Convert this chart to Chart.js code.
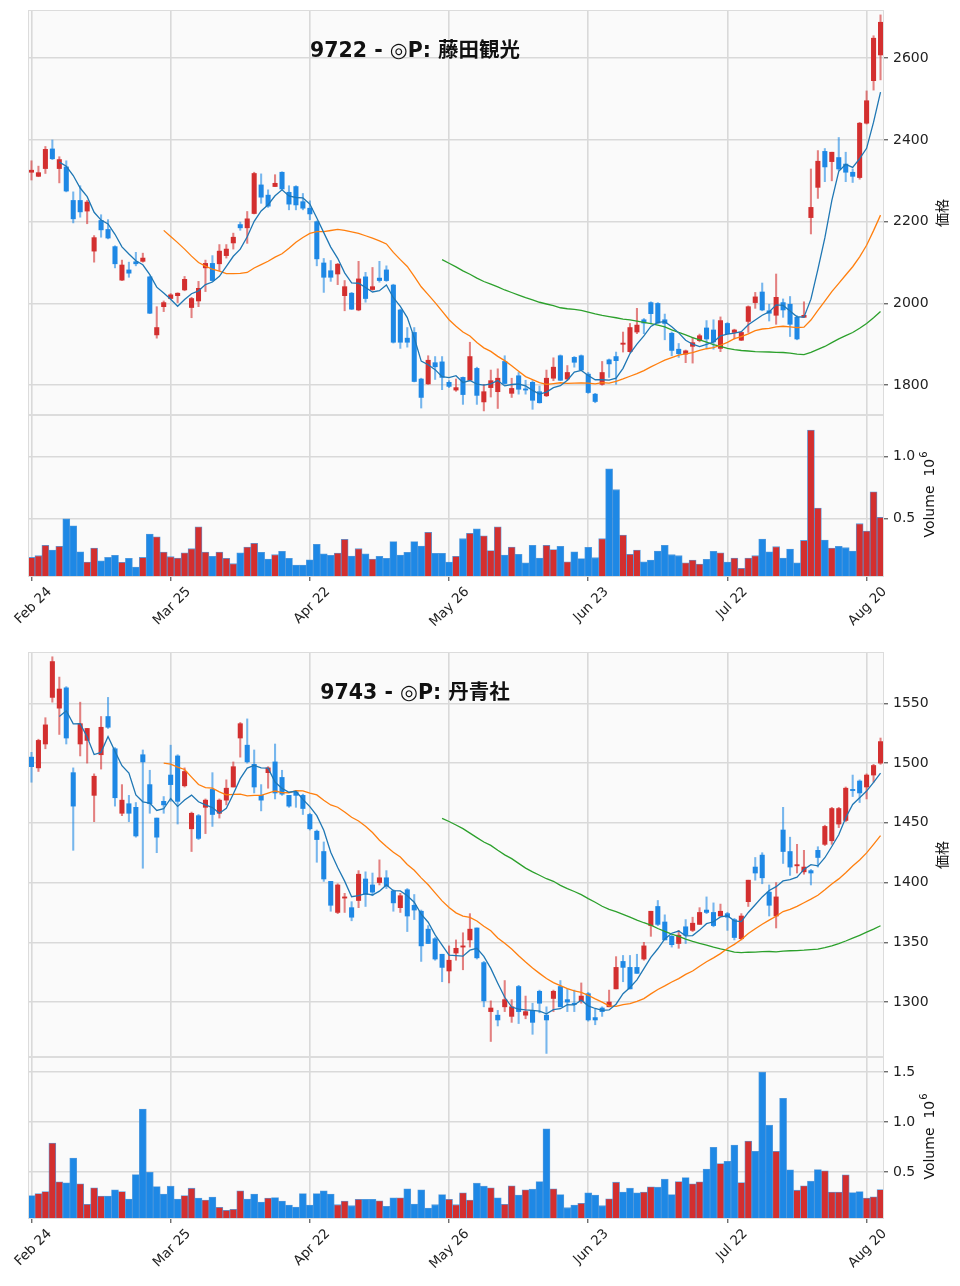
<!DOCTYPE html>
<html>
<head>
<meta charset="utf-8">
<script src="https://cdn.jsdelivr.net/npm/chart.js@4.4.1/dist/chart.umd.min.js"></script>
<style>
body { margin: 0; background: #fff; width: 960px; height: 1286px; position: relative; overflow: hidden; }
canvas { position: absolute; left: 0; }
</style>
</head>
<body>
<canvas id="p1" width="960" height="415" style="top:0px"></canvas>
<canvas id="v1" width="960" height="226" style="top:415px"></canvas>
<canvas id="p2" width="960" height="415" style="top:642px"></canvas>
<canvas id="v2" width="960" height="226" style="top:1057px"></canvas>
<script>
// x axis tick labels, one every 20 trading days
var tickLabels = ['Feb 24', 'Mar 25', 'Apr 22', 'May 26', 'Jun 23', 'Jul 22', 'Aug 20'];
var tickEvery = 20;
var maPeriods = [5, 20, 60];

// y axis ticks
var priceTicksA = [1800, 2000, 2200, 2400, 2600];
var priceTicksB = [1300, 1350, 1400, 1450, 1500, 1550];
var volTicksA = [0.5, 1.0];
var volTicksB = [0.5, 1.0, 1.5];

// 9722 藤田観光
var openA = [2321,2311,2330,2378,2330,2334,2252,2252,2226,2128,2203,2181,2139,2057,2082,2102,2103,2065,1923,1992,
  2012,2019,2033,1990,2006,2087,2098,2097,2117,2148,2193,2185,2220,2290,2265,2286,2321,2272,2286,2249,
  2233,2200,2099,2080,2072,2019,2025,1984,2065,2034,2062,2082,2045,1984,1915,1929,1815,1803,1855,1857,
  1807,1788,1819,1812,1841,1759,1794,1784,1858,1780,1823,1790,1807,1784,1774,1817,1872,1815,1868,1872,
  1827,1778,1802,1862,1870,1900,1882,1930,1960,2002,2000,1960,1927,1888,1876,1895,1909,1940,1935,1890,
  1951,1929,1910,1956,2002,2028,1982,1971,2002,1998,1966,1966,2210,2284,2372,2347,2357,2341,2321,2308,
  2441,2545,2608];
var highA = [2349,2336,2384,2400,2359,2349,2273,2288,2252,2166,2217,2205,2141,2106,2101,2125,2123,2067,1992,2006,
  2024,2026,2066,2015,2054,2106,2117,2144,2144,2172,2199,2225,2321,2317,2278,2315,2322,2288,2288,2269,
  2251,2202,2110,2105,2098,2056,2027,2103,2076,2088,2103,2092,2047,1986,1941,1941,1817,1872,1870,1870,
  1811,1815,1820,1905,1844,1802,1837,1840,1872,1817,1831,1812,1811,1798,1837,1867,1874,1848,1870,1874,
  1831,1780,1858,1864,1881,1930,1951,1988,1963,2004,2002,1974,1930,1902,1886,1917,1925,1958,1960,1967,
  1953,1937,1931,1994,2027,2050,1998,2072,2011,2017,1970,2004,2329,2374,2379,2370,2406,2370,2329,2443,
  2520,2655,2706];
var lowA = [2302,2310,2318,2352,2295,2273,2197,2211,2195,2101,2162,2158,2087,2056,2064,2092,2101,1975,1915,1980,
  2011,2002,2031,1965,1992,2029,2054,2080,2111,2133,2179,2147,2219,2245,2235,2286,2278,2229,2229,2229,
  2205,2092,2027,2054,2046,1982,1985,1982,2003,2032,2052,2054,1903,1890,1893,1808,1744,1802,1814,1789,
  1794,1785,1753,1811,1753,1737,1771,1743,1802,1770,1778,1778,1741,1756,1772,1811,1811,1812,1844,1836,
  1780,1757,1800,1819,1802,1881,1880,1926,1926,1951,1951,1911,1872,1868,1855,1854,1906,1890,1888,1882,
  1925,1913,1909,1929,1988,1982,1957,1949,1966,1919,1911,1966,2170,2257,2298,2300,2325,2298,2296,2304,
  2439,2522,2547];
var closeA = [2326,2320,2377,2354,2352,2275,2207,2224,2248,2161,2180,2160,2097,2094,2074,2097,2111,1976,1941,2002,
  2021,2025,2059,2012,2037,2098,2056,2128,2133,2162,2185,2207,2318,2260,2238,2294,2280,2243,2241,2233,
  2219,2109,2064,2064,2096,2041,1986,2060,2012,2041,2056,2056,1905,1905,1905,1809,1770,1861,1845,1819,
  1797,1794,1777,1870,1775,1784,1811,1817,1804,1792,1790,1788,1763,1757,1817,1844,1812,1831,1856,1837,
  1782,1760,1831,1852,1860,1903,1941,1947,1952,1975,1952,1951,1885,1877,1884,1904,1921,1913,1906,1958,
  1926,1935,1929,1992,2016,1984,1976,2015,1984,1949,1913,1971,2235,2348,2334,2370,2329,2321,2311,2441,
  2496,2649,2688];
// volume, millions of shares
var volA = [0.183,0.197,0.281,0.243,0.273,0.497,0.440,0.229,0.146,0.259,
  0.156,0.183,0.200,0.143,0.175,0.105,0.183,0.373,0.351,0.227,
  0.189,0.178,0.221,0.254,0.432,0.227,0.192,0.227,0.175,0.132,
  0.221,0.267,0.297,0.224,0.170,0.205,0.232,0.175,0.121,0.121,
  0.164,0.289,0.213,0.200,0.219,0.330,0.194,0.254,0.213,0.170,
  0.192,0.175,0.311,0.202,0.224,0.311,0.275,0.386,0.216,0.216,
  0.146,0.192,0.335,0.378,0.416,0.359,0.238,0.432,0.202,0.267,
  0.208,0.140,0.281,0.178,0.281,0.246,0.273,0.148,0.229,0.173,
  0.265,0.181,0.335,0.903,0.733,0.365,0.208,0.243,0.148,0.162,
  0.235,0.281,0.205,0.197,0.140,0.162,0.129,0.167,0.232,0.221,
  0.146,0.178,0.094,0.178,0.197,0.332,0.229,0.270,0.178,0.251,
  0.140,0.321,1.217,0.584,0.324,0.259,0.273,0.262,0.235,0.457,
  0.397,0.716,0.508];

// 9743 丹青社
var openB = [1505,1496,1516,1555,1546,1563,1492,1516,1519,1473,1507,1539,1512,1458,1466,1463,1507,1482,1454,1468,
  1490,1506,1481,1445,1456,1463,1478,1458,1469,1480,1521,1515,1499,1473,1492,1501,1488,1473,1476,1473,
  1457,1443,1426,1401,1375,1387,1379,1385,1403,1398,1400,1404,1393,1379,1394,1381,1376,1361,1353,1340,
  1326,1341,1346,1352,1362,1333,1292,1289,1296,1288,1313,1289,1293,1309,1289,1303,1313,1302,1299,1301,
  1307,1287,1295,1296,1311,1334,1329,1329,1336,1364,1380,1367,1355,1349,1363,1360,1365,1377,1375,1372,
  1374,1369,1353,1384,1413,1423,1392,1372,1444,1426,1414,1409,1410,1427,1432,1435,1449,1452,1478,1485,
  1480,1490,1500];
var highB = [1509,1520,1538,1589,1572,1564,1496,1551,1529,1491,1539,1555,1513,1482,1473,1467,1511,1494,1454,1472,
  1515,1507,1496,1459,1457,1470,1492,1470,1486,1501,1534,1537,1511,1482,1497,1516,1494,1473,1477,1474,
  1458,1444,1434,1401,1399,1391,1384,1410,1409,1408,1419,1410,1394,1391,1395,1390,1377,1364,1354,1340,
  1347,1352,1358,1374,1362,1334,1301,1293,1318,1302,1314,1305,1299,1310,1296,1310,1318,1311,1310,1316,
  1308,1294,1296,1310,1338,1339,1339,1340,1350,1376,1385,1373,1356,1360,1369,1371,1379,1388,1383,1382,
  1375,1370,1374,1402,1421,1425,1398,1400,1463,1438,1432,1427,1411,1430,1448,1463,1463,1480,1490,1486,
  1491,1499,1521];
var lowB = [1484,1493,1512,1551,1524,1516,1427,1506,1500,1451,1495,1529,1464,1456,1451,1438,1412,1458,1425,1458,
  1468,1449,1480,1426,1436,1441,1447,1454,1465,1480,1505,1500,1475,1460,1479,1470,1473,1463,1463,1457,
  1444,1417,1401,1376,1374,1375,1368,1379,1380,1389,1398,1395,1376,1375,1359,1369,1334,1349,1335,1317,
  1316,1335,1327,1346,1336,1296,1267,1280,1292,1283,1282,1286,1273,1291,1257,1292,1296,1292,1292,1299,
  1284,1281,1288,1296,1311,1317,1311,1324,1335,1355,1364,1352,1346,1345,1349,1359,1365,1374,1363,1372,
  1360,1352,1352,1380,1402,1399,1372,1362,1416,1406,1408,1407,1398,1413,1431,1432,1446,1451,1472,1467,
  1470,1484,1499];
var closeB = [1497,1519,1532,1585,1562,1521,1464,1533,1529,1489,1530,1530,1471,1469,1458,1439,1501,1466,1438,1465,
  1482,1468,1493,1458,1437,1469,1457,1469,1479,1497,1533,1501,1480,1469,1496,1475,1474,1464,1473,1462,
  1445,1436,1403,1381,1398,1388,1371,1407,1390,1392,1404,1397,1383,1389,1372,1377,1347,1349,1336,1329,
  1335,1345,1347,1361,1337,1301,1295,1285,1302,1296,1292,1292,1283,1299,1285,1309,1296,1300,1298,1305,
  1285,1285,1292,1300,1329,1329,1311,1324,1347,1376,1365,1352,1348,1356,1356,1366,1375,1375,1364,1376,
  1371,1354,1372,1402,1408,1404,1381,1388,1426,1413,1415,1413,1408,1421,1447,1462,1462,1479,1477,1475,
  1490,1498,1518];
var volB = [0.267,0.287,0.307,0.791,0.403,0.393,0.642,0.383,0.178,0.344,
  0.261,0.261,0.324,0.307,0.231,0.476,1.132,0.499,0.357,0.281,
  0.360,0.231,0.267,0.340,0.241,0.221,0.251,0.148,0.118,0.128,
  0.314,0.231,0.281,0.201,0.241,0.247,0.211,0.171,0.151,0.287,
  0.171,0.287,0.314,0.281,0.175,0.211,0.165,0.228,0.228,0.228,
  0.214,0.158,0.244,0.244,0.334,0.181,0.324,0.141,0.175,0.277,
  0.228,0.175,0.294,0.221,0.390,0.360,0.344,0.244,0.178,0.363,
  0.271,0.324,0.330,0.407,0.933,0.334,0.277,0.145,0.171,0.188,
  0.294,0.271,0.165,0.234,0.400,0.301,0.340,0.294,0.301,0.354,
  0.350,0.430,0.277,0.407,0.446,0.383,0.403,0.532,0.748,0.586,
  0.609,0.771,0.397,0.811,0.708,1.500,0.970,0.708,1.238,0.523,
  0.320,0.363,0.410,0.526,0.513,0.301,0.301,0.473,0.297,0.307,
  0.241,0.254,0.327];

var UP = '#d32f2f', DOWN = '#1e88e5';
var UP_WICK = 'rgba(211,47,47,0.6)', DOWN_WICK = 'rgba(30,136,229,0.6)';
var MA_COLORS = ['#1f77b4', '#ff7f0e', '#2ca02c'];
var GRID = '#d9d9d9';
var NONE = 'rgba(0,0,0,0)';
var FONT = '"DejaVu Sans", "Noto Sans CJK JP", sans-serif';

Chart.defaults.font.family = FONT;
Chart.defaults.color = '#222';

function sma(src, n) {
  return src.map(function (_, i) {
    if (i < n - 1) return null;
    var s = 0;
    for (var k = i - n + 1; k <= i; k++) s += src[k];
    return s / n;
  });
}

// panel background, frame and free text
var deco = {
  id: 'deco',
  beforeDraw: function (chart) {
    var a = chart.chartArea, c = chart.ctx;
    c.save();
    c.fillStyle = '#fafafa';
    c.fillRect(a.left, a.top, a.right - a.left, a.bottom - a.top);
    c.restore();
  },
  afterDraw: function (chart) {
    var a = chart.chartArea, c = chart.ctx;
    var o = chart.options.plugins.deco || {};
    c.save();
    c.strokeStyle = '#dcdcdc';
    c.lineWidth = 1;
    c.strokeRect(a.left + 0.5, a.top + 0.5, a.right - a.left - 1, a.bottom - a.top - 1);
    (o.texts || []).forEach(function (t) {
      c.save();
      c.translate(t.x, t.y);
      c.rotate((t.rot || 0) * Math.PI / 180);
      c.fillStyle = '#111';
      c.textBaseline = 'middle';
      c.font = t.font;
      var w = c.measureText(t.text).width, ws = 0;
      if (t.sup) { c.font = t.supFont; ws = c.measureText(t.sup).width; }
      c.textAlign = 'left';
      c.font = t.font;
      c.fillText(t.text, -(w + ws) / 2, 0);
      if (t.sup) { c.font = t.supFont; c.fillText(t.sup, -(w + ws) / 2 + w + 1, -6); }
      c.restore();
    });
    c.restore();
  }
};

function onTick(ctx) { return ctx.index % tickEvery === 0; }

function xAxis(labels) {
  return {
    type: 'category', offset: true,
    ticks: {
      display: labels, autoSkip: false, minRotation: 45, maxRotation: 45, padding: 3, labelOffset: 18,
      font: { size: 13.5 }, color: '#222',
      callback: function (v) { var k = v / tickEvery; return tickLabels[k] === undefined ? '' : tickLabels[k]; }
    },
    grid: {
      offset: false, lineWidth: 1.6, drawTicks: labels, tickLength: 4, tickWidth: 1,
      color: function (ctx) { return onTick(ctx) ? GRID : NONE; },
      tickColor: function (ctx) { return onTick(ctx) ? '#333' : NONE; }
    },
    border: { display: false },
    afterFit: function (s) { s.height = labels ? 64 : 0; s.paddingLeft = 0; s.paddingRight = 0; }
  };
}

function yAxis(min, max, tickVals, fmt) {
  return {
    position: 'right', min: min, max: max,
    afterBuildTicks: function (s) { s.ticks = tickVals.map(function (v) { return { value: v }; }); },
    ticks: { padding: 5, font: { size: 14 }, color: '#222', callback: fmt },
    grid: { color: GRID, lineWidth: 1.6, tickLength: 4, tickColor: '#333', tickWidth: 1 },
    border: { display: false },
    afterFit: function (s) { s.width = 76; s.paddingTop = 0; s.paddingBottom = 0; }
  };
}

function priceChart(id, o, h, l, c, yMin, yMax, yTicks, title) {
  var isUp = c.map(function (v, i) { return v >= o[i]; });
  var datasets = maPeriods.map(function (p, k) {
    return {
      type: 'line', order: 0, data: sma(c, p),
      borderColor: MA_COLORS[k], borderWidth: 1.3, pointRadius: 0, tension: 0, spanGaps: false
    };
  });
  datasets.push({
    type: 'bar', order: 1, grouped: false, barThickness: 4.4, minBarLength: 1.2,
    data: o.map(function (v, i) { return [v, c[i]]; }),
    backgroundColor: isUp.map(function (u) { return u ? UP : DOWN; })
  });
  datasets.push({
    type: 'bar', order: 2, grouped: false, barThickness: 1.4,
    data: h.map(function (v, i) { return [l[i], v]; }),
    backgroundColor: isUp.map(function (u) { return u ? UP_WICK : DOWN_WICK; })
  });
  new Chart(document.getElementById(id), {
    type: 'bar',
    data: { labels: c.map(function (_, i) { return i; }), datasets: datasets },
    options: {
      responsive: false, animation: false, events: [],
      layout: { padding: { left: 28, right: 0, top: 10, bottom: 0 } },
      scales: { x: xAxis(false), y: yAxis(yMin, yMax, yTicks, function (v) { return String(v); }) },
      plugins: {
        legend: { display: false }, tooltip: { enabled: false },
        deco: { texts: [
          { text: title, x: 415, y: 52, font: 'bold 20.5px ' + FONT },
          { text: '価格', x: 943, y: 213, rot: -90, font: '14px ' + FONT }
        ] }
      }
    },
    plugins: [deco]
  });
}

function volumeChart(id, o, c, v, yMin, yMax, yTicks) {
  var isUp = c.map(function (x, i) { return x >= o[i]; });
  new Chart(document.getElementById(id), {
    type: 'bar',
    data: {
      labels: v.map(function (_, i) { return i; }),
      datasets: [{
        grouped: false, barThickness: 7, data: v,
        backgroundColor: isUp.map(function (u) { return u ? UP : DOWN; }),
        borderColor: 'rgba(60,140,215,0.85)', borderWidth: 0.8
      }]
    },
    options: {
      responsive: false, animation: false, events: [],
      layout: { padding: { left: 28, right: 0, top: 0, bottom: 0 } },
      scales: { x: xAxis(true), y: yAxis(yMin, yMax, yTicks, function (t) { return t.toFixed(1); }) },
      plugins: {
        legend: { display: false }, tooltip: { enabled: false },
        deco: { texts: [
          { text: 'Volume  10', sup: '6', x: 930, y: 80, rot: -90, font: '14px ' + FONT, supFont: '10px ' + FONT }
        ] }
      }
    },
    plugins: [deco]
  });
}

priceChart('p1', openA, highA, lowA, closeA, 1727, 2718, priceTicksA, '9722 - ◎P: 藤田観光');
volumeChart('v1', openA, closeA, volA, 0.024, 1.339, volTicksA);
priceChart('p2', openB, highB, lowB, closeB, 1254, 1593, priceTicksB, '9743 - ◎P: 丹青社');
volumeChart('v2', openB, closeB, volB, 0.032, 1.652, volTicksB);
</script>
</body>
</html>
